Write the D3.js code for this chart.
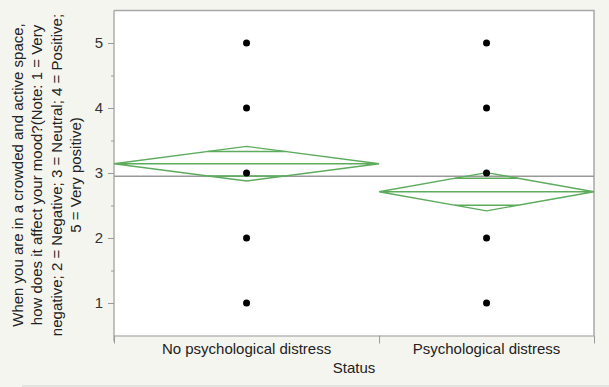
<!DOCTYPE html>
<html>
<head>
<meta charset="utf-8">
<script src="https://cdn.jsdelivr.net/npm/d3@7"></script>
<style>
  body { margin: 0; background: #f5f5f0; }
  svg { display: block; font-family: "Liberation Sans", Arial, sans-serif; }
</style>
</head>
<body>
<svg id="chart" width="609" height="387"></svg>
<script>
// data
var categories = ["No psychological distress", "Psychological distress"];
var groupN = [111, 90];
var groupMeans = [3.143, 2.712];
var ciLower = [2.877, 2.418];
var ciUpper = [3.409, 3.006];
var grandMean = 2.95;
var responseLevels = [1, 2, 3, 4, 5];
var yTitleLines = [
  "When you are in a crowded and active space,",
  "how does it affect your mood?(Note: 1 = Very",
  "negative; 2 = Negative; 3 = Neutral; 4 = Positive;",
  "5 = Very positive)"
];

var svg = d3.select("#chart"),
    margin = {top: 10.5, right: 15, bottom: 51.5, left: 114},
    width = +svg.attr("width") - margin.left - margin.right,
    height = +svg.attr("height") - margin.top - margin.bottom;

var green = "#5dab5d";
var fs = 15;

// x is proportional to group size
var starts = Array.from(d3.cumsum([0].concat(groupN)));
var x = d3.scaleLinear()
    .domain([0, d3.sum(groupN)])
    .range([margin.left, margin.left + width]);

var y = d3.scaleLinear()
    .domain([0.5, 5.5])
    .range([margin.top + height, margin.top]);

// bottom separator line
svg.append("line")
    .attr("x1", 22).attr("x2", 609)
    .attr("y1", 386).attr("y2", 386)
    .attr("stroke", "#cfcfcb");

// plot background
svg.append("rect")
    .attr("x", margin.left).attr("y", margin.top)
    .attr("width", width).attr("height", height)
    .attr("fill", "#fff");

// top and right frame
svg.append("path")
    .attr("d", "M" + margin.left + "," + margin.top + "H" + (margin.left + width) + "V" + (margin.top + height))
    .attr("fill", "none")
    .attr("stroke", "#a8a8a8")
    .attr("stroke-width", 1.5);

// y axis
var yAxis = svg.append("g")
    .attr("transform", "translate(" + margin.left + ",0)")
    .call(d3.axisLeft(y).tickValues(responseLevels).tickFormat(d3.format("d")).tickSize(6).tickSizeOuter(0).tickPadding(5));
yAxis.select(".domain").remove();
yAxis.selectAll(".tick line").attr("stroke", "#999");
yAxis.selectAll("text").attr("font-size", fs).attr("fill", "#333")
    .attr("font-family", "Liberation Sans, Arial, sans-serif");

svg.append("g")
    .attr("transform", "translate(" + margin.left + ",0)")
    .call(d3.axisLeft(y).tickValues([1.5, 2.5, 3.5, 4.5]).tickSize(3).tickFormat(""))
    .call(g => g.select(".domain").remove())
    .selectAll(".tick line").attr("stroke", "#999");

svg.append("line")
    .attr("x1", margin.left).attr("x2", margin.left)
    .attr("y1", margin.top).attr("y2", margin.top + height + 6)
    .attr("stroke", "#999").attr("stroke-width", 1.2);

// x axis
var xAxis = svg.append("g")
    .attr("transform", "translate(0," + (margin.top + height) + ")")
    .call(d3.axisBottom(x).tickValues(starts).tickSize(8).tickSizeOuter(0).tickFormat(""));
xAxis.select(".domain").attr("stroke", "#999").attr("stroke-width", 1.2);
xAxis.selectAll(".tick line").attr("stroke", "#999");

svg.append("g")
  .selectAll("text")
  .data(categories)
  .enter().append("text")
    .attr("x", (d, i) => x((starts[i] + starts[i + 1]) / 2))
    .attr("y", margin.top + height + 18)
    .attr("text-anchor", "middle")
    .attr("font-size", fs)
    .attr("fill", "#222")
    .text(d => d);

svg.append("text")
    .attr("x", margin.left + width / 2)
    .attr("y", margin.top + height + 37)
    .attr("text-anchor", "middle")
    .attr("font-size", fs)
    .attr("fill", "#222")
    .text("Status");

// y title
var yt = svg.append("text")
    .attr("transform", "translate(23," + (y(3) + 2) + ") rotate(-90)")
    .attr("text-anchor", "middle")
    .attr("font-size", fs)
    .attr("fill", "#222");
yt.selectAll("tspan")
  .data(yTitleLines)
  .enter().append("tspan")
    .attr("x", 0)
    .attr("dy", (d, i) => i === 0 ? 0 : 19.4)
    .text(d => d);

// grand mean
svg.append("line")
    .attr("x1", margin.left).attr("x2", margin.left + width)
    .attr("y1", y(grandMean)).attr("y2", y(grandMean))
    .attr("stroke", "#999").attr("stroke-width", 1.5);

// means diamonds
var diamonds = svg.append("g")
  .selectAll("g")
  .data(categories)
  .enter().append("g");

diamonds.append("path")
    .attr("fill", "none")
    .attr("stroke", green)
    .attr("stroke-width", 1.4)
    .attr("d", function(d, i) {
      var x0 = x(starts[i]), x1 = x(starts[i + 1]), xm = (x0 + x1) / 2;
      return "M" + x0 + "," + y(groupMeans[i]) +
        "L" + xm + "," + y(ciUpper[i]) +
        "L" + x1 + "," + y(groupMeans[i]) +
        "L" + xm + "," + y(ciLower[i]) + "Z" +
        "M" + x0 + "," + y(groupMeans[i]) + "H" + x1;
    });

// overlap marks
diamonds.each(function(d, i) {
  var g = d3.select(this);
  var x0 = x(starts[i]), x1 = x(starts[i + 1]), xm = (x0 + x1) / 2;
  var half = (ciUpper[i] - ciLower[i]) / 2;
  var off = half / Math.SQRT2;
  var w = (x1 - x0) / 2 * (1 - off / half);
  [groupMeans[i] + off, groupMeans[i] - off].forEach(function(v) {
    g.append("line")
      .attr("x1", xm - w).attr("x2", xm + w)
      .attr("y1", y(v)).attr("y2", y(v))
      .attr("stroke", green)
      .attr("stroke-width", 1.4);
  });
});

// points
var pts = [];
categories.forEach(function(c, i) {
  responseLevels.forEach(function(v) { pts.push({i: i, v: v}); });
});
svg.append("g")
  .selectAll("circle")
  .data(pts)
  .enter().append("circle")
    .attr("cx", d => x((starts[d.i] + starts[d.i + 1]) / 2))
    .attr("cy", d => y(d.v))
    .attr("r", 3.5)
    .attr("fill", "#000");
</script>
</body>
</html>
